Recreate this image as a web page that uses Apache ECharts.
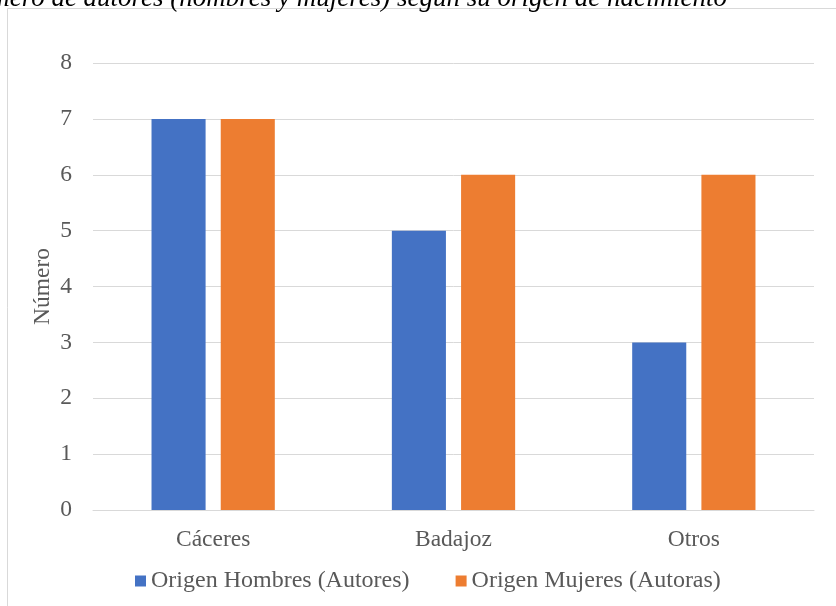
<!DOCTYPE html>
<html>
<head>
<meta charset="utf-8">
<script src="https://cdn.jsdelivr.net/npm/echarts@6/dist/echarts.min.js"></script>
<style>
html,body{margin:0;padding:0;background:#fff;}
#chart{width:836px;height:606px;}
</style>
</head>
<body>
<div id="chart"></div>
<script>
const titleText = 'Número de autores (hombres y mujeres) según su origen de nacimiento';
const categories = ['Cáceres', 'Badajoz', 'Otros'];
const seriesNames = ['Origen Hombres (Autores)', 'Origen Mujeres (Autoras)'];
const hombres = [7, 5, 3];
const mujeres = [7, 6, 6];
const yTicks = [0, 1, 2, 3, 4, 5, 6, 7, 8];
const yAxisName = 'Número';

const font = '"Liberation Serif", "Times New Roman", serif';
const textColor = '#595959';

const chart = echarts.init(document.getElementById('chart'), null, {renderer: 'canvas'});
chart.setOption({
  animation: false,
  backgroundColor: '#fff',
  graphic: [
    {
      type: 'rect',
      shape: {x: 7.5, y: 8.5, width: 900, height: 700},
      style: {fill: 'none', stroke: '#d9d9d9', lineWidth: 1},
      silent: true
    },
    {
      type: 'text',
      x: 727, y: 12,
      style: {
        text: titleText,
        font: 'italic 27px ' + font,
        fill: '#000',
        align: 'right',
        verticalAlign: 'bottom'
      }
    }
  ],
  legend: {
    data: seriesNames,
    bottom: 13,
    left: 135,
    padding: 0,
    itemWidth: 11,
    itemHeight: 11,
    itemGap: 46,
    icon: 'rect',
    textStyle: {fontFamily: font, fontSize: 24, color: textColor, padding: [0, 0, 0, 0]}
  },
  grid: {left: 93, right: 22, top: 63, bottom: 96, containLabel: false},
  xAxis: {
    type: 'category',
    data: categories,
    axisLine: {show: true, lineStyle: {color: '#d9d9d9', width: 1}},
    axisTick: {show: false},
    axisLabel: {fontFamily: font, fontSize: 23.5, color: textColor, margin: 18}
  },
  yAxis: {
    type: 'value',
    min: yTicks[0],
    max: yTicks[yTicks.length - 1],
    interval: 1,
    name: yAxisName,
    nameLocation: 'middle',
    nameGap: 38,
    nameMoveOverlap: false,
    nameTextStyle: {fontFamily: font, fontSize: 23.5, color: textColor},
    axisLine: {show: false},
    axisTick: {show: false},
    splitLine: {lineStyle: {color: '#d9d9d9', width: 1}},
    axisLabel: {fontFamily: font, fontSize: 23.5, color: textColor, margin: 21}
  },
  series: [
    {
      name: seriesNames[0],
      type: 'bar',
      data: hombres,
      barWidth: '22.5%',
      barGap: '28%',
      itemStyle: {color: '#4472C4'}
    },
    {
      name: seriesNames[1],
      type: 'bar',
      data: mujeres,
      barWidth: '22.5%',
      itemStyle: {color: '#ED7D31'}
    }
  ]
});
</script>
</body>
</html>
